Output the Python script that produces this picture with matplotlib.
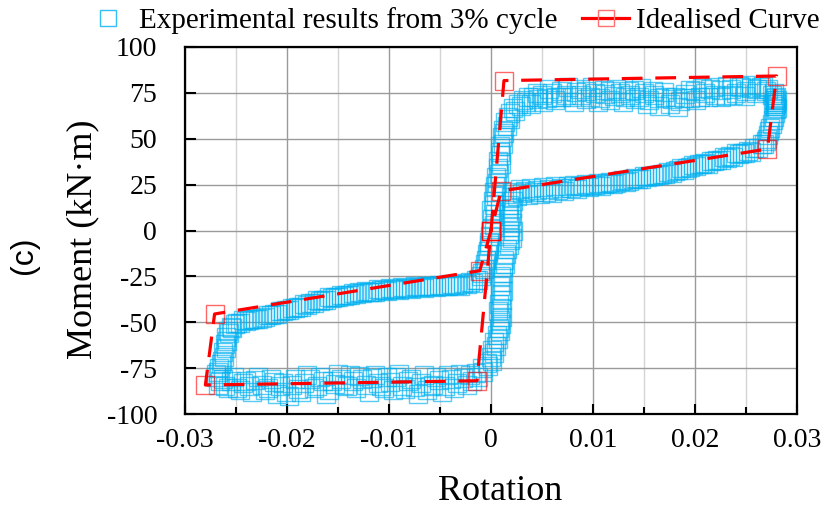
import matplotlib
matplotlib.use("Agg")
import matplotlib.pyplot as plt
from matplotlib.ticker import MultipleLocator, FixedLocator
from matplotlib.lines import Line2D

# ---------------- data ----------------
ideal_rot = [0.0000, 0.00127, 0.0280, 0.0271, 0.00098, 0.0000, -0.0011, -0.0271, -0.0280, -0.00137, 0.0000]
ideal_mom = [0.0, 81.7, 84.2, 44.4, 21.5, 0.0, -21.9, -45.5, -84.2, -81.9, 0.0]

# first 3% cycle (rotation, moment kN.m)
cycle1_rot = [
    0.0000, 0.0001, 0.0000, 0.0002, 0.0003, 0.0004, 0.0005, 0.0007, 0.0007, 0.0009,
    0.0009, 0.0011, 0.0012, 0.0014, 0.0017, 0.0019, 0.0022, 0.0026, 0.0031, 0.0036,
    0.0041, 0.0046, 0.0050, 0.0055, 0.0060, 0.0064, 0.0069, 0.0074, 0.0079, 0.0083,
    0.0088, 0.0093, 0.0097, 0.0102, 0.0107, 0.0112, 0.0117, 0.0121, 0.0126, 0.0131,
    0.0136, 0.0140, 0.0145, 0.0150, 0.0155, 0.0160, 0.0165, 0.0170, 0.0175, 0.0180,
    0.0185, 0.0190, 0.0195, 0.0200, 0.0205, 0.0210, 0.0215, 0.0220, 0.0225, 0.0230,
    0.0235, 0.0240, 0.0245, 0.0250, 0.0255, 0.0260, 0.0265, 0.0270,
    0.0275, 0.0278, 0.0279, 0.0278, 0.0279, 0.0277, 0.0276, 0.0277, 0.0275, 0.0273,
    0.0271, 0.0268, 0.0262,
    0.0255, 0.0249, 0.0243, 0.0237, 0.0231, 0.0225, 0.0219, 0.0213, 0.0207, 0.0201,
    0.0195, 0.0189, 0.0183, 0.0177, 0.0171, 0.0165, 0.0159, 0.0153, 0.0147, 0.0141,
    0.0135, 0.0129, 0.0123, 0.0117, 0.0111, 0.0105, 0.0099, 0.0093, 0.0087, 0.0081,
    0.0075, 0.0069, 0.0063, 0.0057, 0.0051, 0.0045, 0.0039, 0.0033, 0.0028, 0.0023,
    0.0020, 0.0018, 0.0017, 0.0018, 0.0019, 0.0018, 0.0019, 0.0016, 0.0013, 0.0012,
    0.0010, 0.0009, 0.0010, 0.0008, 0.0007, 0.0009, 0.0008, 0.0006, 0.0003, 0.0001,
    0.0000, -0.0004, -0.0009, -0.0015, -0.0021,
    -0.0027, -0.0033, -0.0039, -0.0045, -0.0051, -0.0057, -0.0063, -0.0069, -0.0075, -0.0081,
    -0.0087, -0.0093, -0.0099, -0.0105, -0.0111, -0.0117, -0.0123, -0.0129, -0.0135, -0.0141,
    -0.0147, -0.0153, -0.0159, -0.0165, -0.0171, -0.0177, -0.0183, -0.0189, -0.0195, -0.0201,
    -0.0207, -0.0213, -0.0219, -0.0225, -0.0231, -0.0237, -0.0243, -0.0249, -0.0255, -0.0261,
    -0.0266, -0.0270,
    -0.0268, -0.0265, -0.0262, -0.0260, -0.0259, -0.0257, -0.0254, -0.0249, -0.0243,
    -0.0237, -0.0231, -0.0225, -0.0219, -0.0213, -0.0207, -0.0201, -0.0195, -0.0189, -0.0183,
    -0.0177, -0.0171, -0.0165, -0.0159, -0.0153, -0.0147, -0.0141, -0.0135, -0.0129, -0.0123,
    -0.0117, -0.0111, -0.0105, -0.0099, -0.0093, -0.0087, -0.0081, -0.0075, -0.0069, -0.0063,
    -0.0057, -0.0051, -0.0045, -0.0039, -0.0033, -0.0027, -0.0021, -0.0015, -0.0010, -0.0007,
    -0.0005, -0.0003, -0.0002,
]
cycle1_mom = [
    1, 6, 11, 16, 21, 24, 29, 34, 38, 43,
    46, 51, 55, 59, 62, 64, 67, 69, 71, 72.5,
    73, 71.5, 74, 72, 75, 73, 76, 74, 72.5, 75.5,
    74, 76, 73, 75, 72, 74.5, 76, 73.5, 75, 72.5,
    74, 76.5, 73, 75, 71, 74, 72, 75.5, 69, 73,
    70.5, 74.5, 72, 76, 73, 75, 77, 74, 76.5, 73.5,
    77, 75, 78, 76, 77.5, 75, 78, 76,
    74, 72, 70, 68, 66, 71, 69, 62, 58, 54,
    50, 47, 45,
    43, 42, 41.5, 40, 39.5, 38.5, 38, 36.5, 36, 35,
    34.5, 33, 33, 31.5, 31, 30.5, 29.5, 29, 28, 28.5,
    27, 27.5, 26, 26.5, 25.5, 26, 25, 25.5, 24, 25,
    24.5, 23, 24, 22.5, 23.5, 22, 23, 21.5, 22.5, 21,
    18, 14, 10, 6, 2, -2, -5, -10, -16, -20,
    -25, -30, -35, -40, -44, -49, -53, -57, -61, -65,
    -69, -72, -75, -77.5, -79,
    -80.5, -83, -81, -85, -81.5, -84, -87, -83, -85.5, -82,
    -84.5, -80, -82.5, -86, -83, -80.5, -84, -79.5, -82, -85,
    -81, -83.5, -87, -82, -84.5, -81, -83, -86.5, -84, -88,
    -85, -82.5, -86, -84, -81.5, -85, -83, -86, -82, -84.5,
    -82, -80,
    -77, -73, -69, -64, -60, -56, -53, -50.5, -49,
    -49, -48, -47.5, -46, -45.5, -44, -43.5, -42, -41.5, -40,
    -39.5, -38, -38, -36.5, -36, -35, -35, -34, -33.5, -33,
    -33.5, -32, -32.5, -31.5, -32, -31, -31.5, -30.5, -31, -30,
    -30.5, -29.5, -30, -29, -29.5, -28.5, -28, -27, -25, -21,
    -16, -11, -6,
]

# second 3% cycle (rotation, moment kN.m)
cycle2_points = [
    (0.0003, 3), (0.0004, 9), (0.0003, 14), (0.0005, 19), (0.0006, 26), (0.0008, 31),
    (0.0010, 36), (0.0010, 41), (0.0012, 47), (0.0013, 53), (0.0016, 57), (0.0019, 61),
    (0.0024, 65), (0.0029, 68), (0.0034, 70),
    (0.0039, 69), (0.0045, 75), (0.0051, 70), (0.0057, 77), (0.0063, 71), (0.0069, 73),
    (0.0075, 78), (0.0081, 70), (0.0087, 77), (0.0093, 71.5), (0.0099, 78), (0.0105, 70),
    (0.0111, 76.5), (0.0117, 71), (0.0123, 77), (0.0129, 70), (0.0135, 76), (0.0141, 71.5),
    (0.0147, 77.5), (0.0153, 69), (0.0159, 76), (0.0165, 68), (0.0171, 73), (0.0177, 71.5),
    (0.0183, 67.5), (0.0189, 72), (0.0195, 76.5), (0.0201, 71), (0.0207, 77.5), (0.0213, 72.5),
    (0.0219, 78), (0.0225, 73), (0.0231, 78.5), (0.0237, 74), (0.0243, 79), (0.0249, 73.5),
    (0.0255, 79.5), (0.0261, 77), (0.0267, 79), (0.0272, 77),
    (0.0277, 75), (0.0279, 73), (0.0280, 71), (0.0279, 69), (0.0280, 67), (0.0278, 64),
    (0.0276, 60), (0.0274, 56), (0.0272, 52), (0.0270, 49), (0.0266, 47),
    (0.0258, 45), (0.0252, 43.5), (0.0246, 42.5), (0.0240, 42), (0.0234, 40.5), (0.0228, 40),
    (0.0222, 38.5), (0.0216, 38), (0.0210, 37), (0.0204, 36), (0.0198, 35.5), (0.0192, 34),
    (0.0186, 34), (0.0180, 32.5), (0.0174, 32), (0.0168, 31), (0.0162, 30.5), (0.0156, 29.5),
    (0.0150, 29.5), (0.0144, 28), (0.0138, 28), (0.0132, 26.5), (0.0126, 27), (0.0120, 25.5),
    (0.0114, 26), (0.0108, 24.5), (0.0102, 25), (0.0096, 23.5), (0.0090, 24), (0.0084, 22.5),
    (0.0078, 23), (0.0072, 21.5), (0.0066, 22), (0.0060, 20.5), (0.0054, 21), (0.0048, 20),
    (0.0042, 21), (0.0036, 19.5), (0.0030, 20.5), (0.0025, 19),
    (0.0022, 16), (0.0021, 12), (0.0020, 8), (0.0021, 4), (0.0022, 0), (0.0021, -4),
    (0.0018, -8), (0.0015, -13), (0.0014, -18), (0.0012, -23), (0.0011, -28), (0.0012, -33),
    (0.0011, -38), (0.0010, -42), (0.0011, -47), (0.0010, -51), (0.0009, -55), (0.0007, -59),
    (0.0005, -63), (0.0003, -67), (0.0001, -71), (-0.0003, -74), (-0.0008, -77),
    (-0.0013, -80), (-0.0019, -82),
    (-0.0024, -84), (-0.0030, -78), (-0.0036, -86), (-0.0042, -79), (-0.0048, -88),
    (-0.0054, -80), (-0.0060, -85), (-0.0066, -79), (-0.0072, -89), (-0.0078, -81),
    (-0.0084, -86.5), (-0.0090, -78), (-0.0096, -87), (-0.0102, -80), (-0.0108, -85),
    (-0.0114, -78.5), (-0.0120, -88), (-0.0126, -81), (-0.0132, -86), (-0.0138, -79),
    (-0.0144, -84), (-0.0150, -78), (-0.0156, -82), (-0.0162, -89), (-0.0168, -80),
    (-0.0174, -86), (-0.0180, -79), (-0.0186, -88), (-0.0192, -81), (-0.0198, -90),
    (-0.0204, -83), (-0.0210, -89), (-0.0216, -81), (-0.0222, -87), (-0.0228, -80),
    (-0.0234, -88), (-0.0240, -82), (-0.0246, -87), (-0.0252, -80), (-0.0258, -86),
    (-0.0263, -81), (-0.0268, -84),
    (-0.0270, -78), (-0.0267, -75), (-0.0264, -71), (-0.0263, -66), (-0.0261, -62),
    (-0.0260, -58), (-0.0258, -55), (-0.0255, -52.5), (-0.0251, -51),
    (-0.0246, -50.5), (-0.0240, -49.5), (-0.0234, -48.5), (-0.0228, -48), (-0.0222, -47),
    (-0.0216, -46), (-0.0210, -45.5), (-0.0204, -44), (-0.0198, -43.5), (-0.0192, -42),
    (-0.0186, -41.5), (-0.0180, -40.5), (-0.0174, -39.5), (-0.0168, -38.5), (-0.0162, -38),
    (-0.0156, -37), (-0.0150, -36.5), (-0.0144, -35.5), (-0.0138, -35), (-0.0132, -34.5),
    (-0.0126, -34), (-0.0120, -33.5), (-0.0114, -33.5), (-0.0108, -32.5), (-0.0102, -33),
    (-0.0096, -32), (-0.0090, -32.5), (-0.0084, -31.5), (-0.0078, -32), (-0.0072, -31),
    (-0.0066, -31.5), (-0.0060, -30.5), (-0.0054, -31), (-0.0048, -30), (-0.0042, -30.5),
    (-0.0036, -29.5), (-0.0030, -30), (-0.0024, -29), (-0.0018, -28.5), (-0.0013, -27),
    (-0.0009, -23), (-0.0006, -18), (-0.0004, -13), (-0.0002, -8), (-0.0001, -3),
]
cycle2_rot = [p[0] for p in cycle2_points]
cycle2_mom = [p[1] for p in cycle2_points]

x_ticks = [-0.03, -0.02, -0.01, 0, 0.01, 0.02, 0.03]
x_tick_labels = ["-0.03", "-0.02", "-0.01", "0", "0.01", "0.02", "0.03"]
y_ticks = [-100, -75, -50, -25, 0, 25, 50, 75, 100]
y_tick_labels = ["-100", "-75", "-50", "-25", "0", "25", "50", "75", "100"]

# ---------------- style ----------------
plt.rcParams['font.family'] = ['Liberation Serif', 'DejaVu Serif']
CYAN = '#00B0F0'
RED = '#FF0000'

fig = plt.figure(figsize=(8.37, 5.13), dpi=100)
ax = fig.add_axes([185/837, (513-414)/513, (797-185)/837, (414-47)/513])

exp_rot = cycle1_rot + cycle2_rot
exp_mom = cycle1_mom + cycle2_mom
ax.plot(exp_rot, exp_mom, linestyle='none', marker='s', markersize=12.5,
        markerfacecolor='none', markeredgecolor=CYAN, markeredgewidth=1.0,
        alpha=0.65, zorder=3)
ax.plot(ideal_rot, ideal_mom, color=RED, linewidth=2.3,
        linestyle=(0, (6.5, 4)), zorder=4)
ax.plot(ideal_rot, ideal_mom, linestyle='none', marker='s', markersize=13,
        markerfacecolor='none', markeredgecolor=RED, markeredgewidth=1.0,
        alpha=0.6, zorder=5)

ax.set_xlim(-0.03, 0.03)
ax.set_ylim(-100, 100)
ax.xaxis.set_major_locator(FixedLocator(x_ticks))
ax.set_xticklabels(x_tick_labels)
ax.xaxis.set_minor_locator(MultipleLocator(0.005))
ax.yaxis.set_major_locator(FixedLocator(y_ticks))
ax.set_yticklabels(y_tick_labels)

ax.grid(True, which='major', axis='x', color='#9a9a9a', linewidth=1.0)
ax.grid(True, which='minor', axis='x', color='#d4d4d4', linewidth=1.0)
ax.grid(True, which='major', axis='y', color='#9a9a9a', linewidth=1.0)
ax.set_axisbelow(True)

ax.tick_params(axis='x', which='major', direction='in', length=7, width=1.5,
               labelsize=20, pad=10, top=False)
ax.tick_params(axis='x', which='minor', direction='in', length=5, width=1.5, top=False)
ax.tick_params(axis='y', which='major', direction='in', length=8, width=1.5,
               labelsize=20, pad=20, right=False)
for s in ax.spines.values():
    s.set_linewidth(1.6)
    s.set_color('black')

fig.text(500/837, 1 - 491/513, 'Rotation', fontsize=26, ha='center', va='center')
fig.text(83/837, 1 - 239/513, 'Moment (kN\u00b7m)', fontsize=26, rotation=90,
         ha='center', va='center')
fig.text(24/837, 1 - 255/513, '(c)', fontsize=23, rotation=90, ha='center',
         va='center', family=['Liberation Sans', 'DejaVu Sans'])

h1 = Line2D([], [], linestyle='none', marker='s', markersize=12, markerfacecolor='none',
            markeredgecolor=CYAN, markeredgewidth=1.0, alpha=0.8)
h2 = Line2D([], [], color=RED, linewidth=2.3, marker='s', markersize=12,
            markerfacecolor='none', markeredgecolor='#ff7070', markeredgewidth=1.0)
fig.legend([h1, h2], ['Experimental results from 3% cycle', 'Idealised Curve'],
           loc='center left', bbox_to_anchor=(85/837, 1 - 21/513), ncol=2,
           frameon=False, fontsize=21, handlelength=1.6, handletextpad=0.25,
           columnspacing=0.85, borderpad=0, borderaxespad=0)

fig.savefig('out.png', dpi=100)
